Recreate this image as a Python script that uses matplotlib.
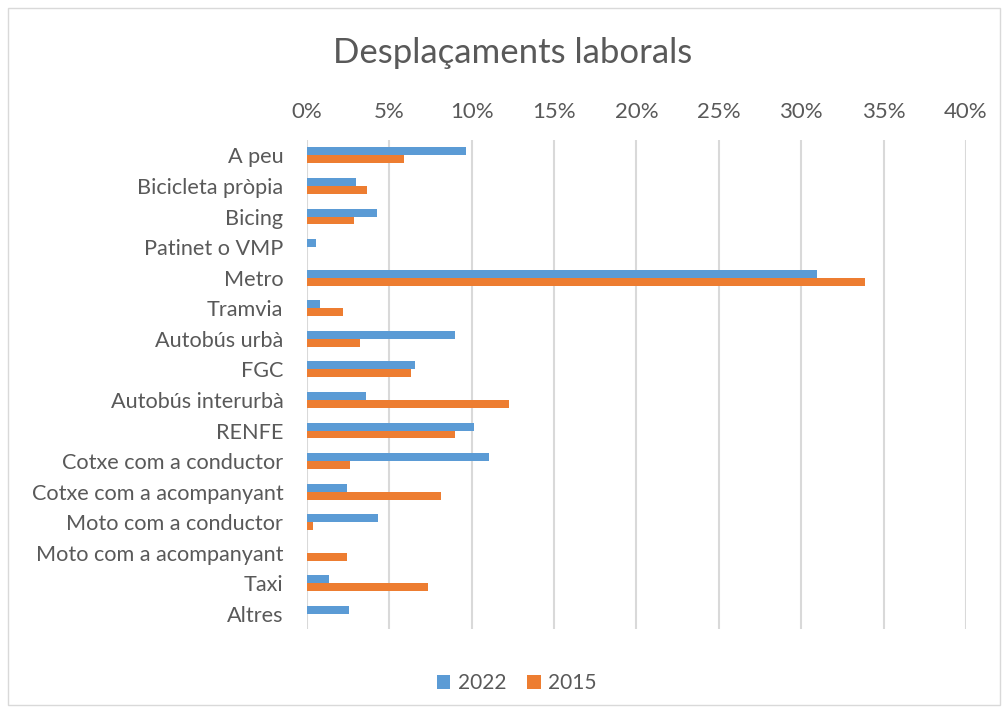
import matplotlib.pyplot as plt
import numpy as np
from matplotlib.patches import Rectangle
from matplotlib.ticker import FuncFormatter

categories = ["A peu", "Bicicleta pròpia", "Bicing", "Patinet o VMP", "Metro", "Tramvia",
              "Autobús urbà", "FGC", "Autobús interurbà", "RENFE", "Cotxe com a conductor",
              "Cotxe com a acompanyant", "Moto com a conductor", "Moto com a acompanyant",
              "Taxi", "Altres"]
val_2022 = [9.65, 2.97, 4.25, 0.58, 30.97, 0.78, 8.96, 6.57, 3.58, 10.14, 11.05,
            2.45, 4.31, 0.0, 1.33, 2.55]
val_2015 = [5.90, 3.67, 2.85, 0.0, 33.87, 2.22, 3.24, 6.30, 12.27, 8.96, 2.63,
            8.15, 0.38, 2.45, 7.34, 0.0]

plt.rcParams['font.family'] = ['Lato', 'DejaVu Sans']
txt = '#595959'

fig = plt.figure(figsize=(10.03, 7.10), dpi=100)
fig.patches.append(Rectangle((0.008, 0.007), 0.989, 0.982, transform=fig.transFigure,
                             fill=False, edgecolor='#d9d9d9', linewidth=1))
ax = fig.add_axes([0.306, 0.1137, 0.657, 0.689])

y = np.arange(len(categories))
h = 0.26
ax.barh(y - h / 2, val_2022, height=h, color='#5B9BD5', label='2022', zorder=3)
ax.barh(y + h / 2, val_2015, height=h, color='#ED7D31', label='2015', zorder=3)

ax.set_ylim(len(categories) - 0.5, -0.5)
ax.set_xlim(0, 40)
ax.set_xticks(np.arange(0, 41, 5))
ax.xaxis.set_major_formatter(FuncFormatter(lambda v, p: f"{v:.0f}%"))
ax.xaxis.tick_top()
ax.set_yticks(y)
ax.set_yticklabels(categories)
ax.tick_params(axis='both', length=0, colors=txt)
ax.tick_params(axis='x', pad=13, labelsize=16)
ax.tick_params(axis='y', pad=17, labelsize=15.6)
ax.grid(axis='x', color='#d9d9d9', linewidth=1.5, zorder=0)
for s in ax.spines.values():
    s.set_visible(False)

fig.text(0.511, 0.926, "Desplaçaments laborals", ha='center', va='center',
         fontsize=25, color=txt)
fig.legend(loc='center', bbox_to_anchor=(0.515, 0.038), ncol=2, frameon=False,
           fontsize=15, labelcolor=txt, handlelength=0.65, handleheight=0.65,
           handletextpad=0.35, columnspacing=1.0)

plt.savefig('out.png', dpi=100)
